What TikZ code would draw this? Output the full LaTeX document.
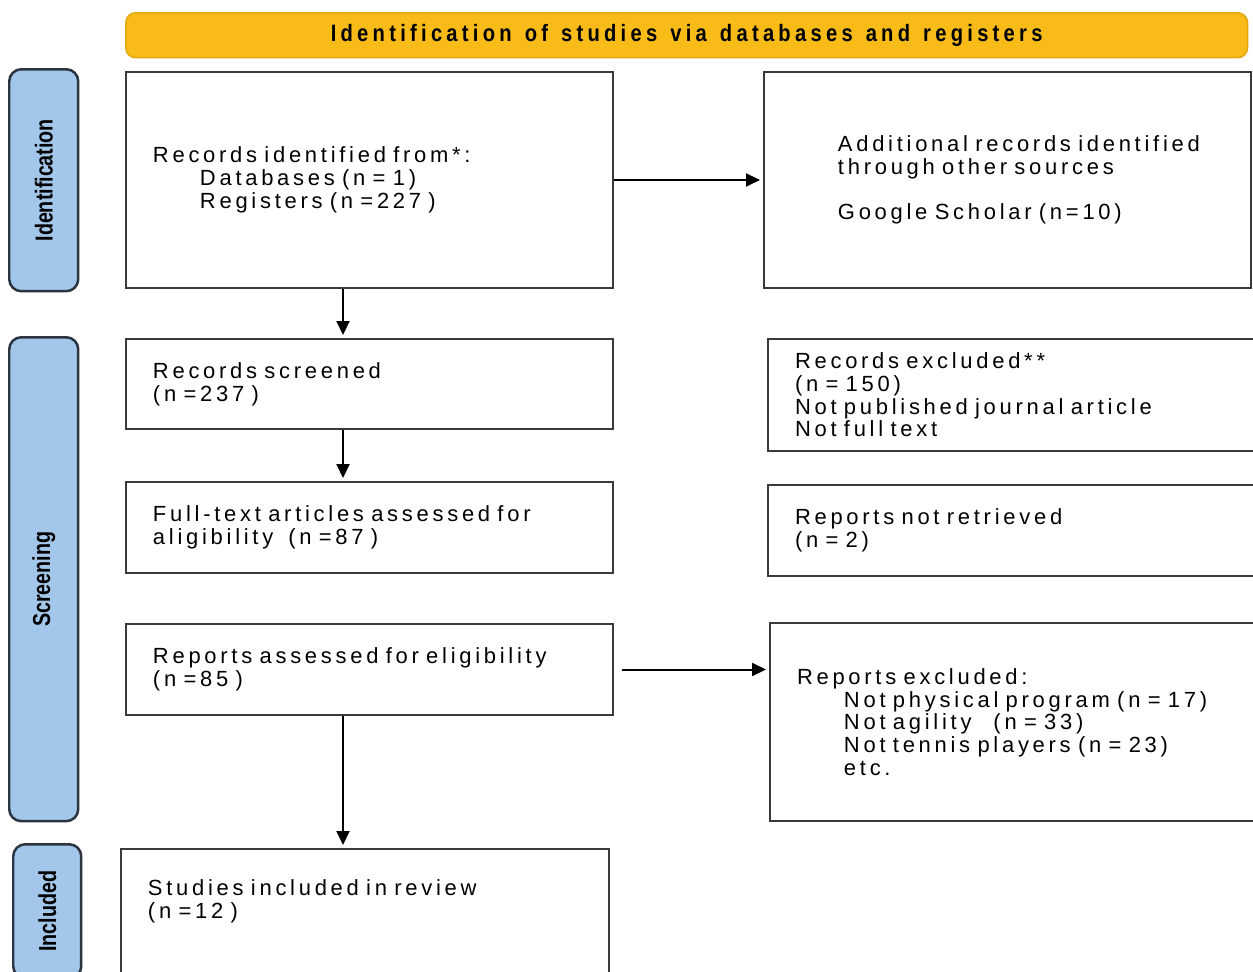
\documentclass[tikz,border=0pt]{standalone}
\usepackage{fontspec}
\setmainfont{Liberation Sans}[LetterSpace=17]
\newfontfamily\headfont{Liberation Sans}[FakeStretch=0.85, LetterSpace=18]
\newfontfamily\sidefont{Liberation Sans}[FakeStretch=0.8]
\usepackage{graphicx}
\usetikzlibrary{arrows.meta}

\definecolor{headfill}{HTML}{F8BB18}
\definecolor{headline}{HTML}{E2A60F}
\definecolor{sidefill}{HTML}{A3C7EB}
\definecolor{sideline}{HTML}{2B3440}
\definecolor{boxline}{HTML}{3A3A3A}

\newcommand{\subline}{\hspace*{0.94cm}}
\DeclareRobustCommand{\headtext}{\headfont\bfseries\fontsize{13.5}{14}\selectfont\spaceskip=0.55em\relax}

\tikzset{
  stagebox/.style={draw=boxline, line width=0.04cm, anchor=north west, align=left,
    inner xsep=0.54cm, inner ysep=0pt, font=\fontsize{12.5}{12.9}\selectfont},
  sidebox/.style={draw=sideline, fill=sidefill, line width=0.05cm, rounded corners=0.24cm,
    anchor=north west, minimum width=1.38cm, inner sep=0pt,
    font=\sidefont\bfseries\fontsize{14}{15}\selectfont},
  flow/.style={line width=0.04cm, shorten >=0.06cm, -{Triangle[length=0.28cm,width=0.26cm]}}
}

\begin{document}
\begin{tikzpicture}[x=0.02cm, y=-0.02cm]
\useasboundingbox (0,0) rectangle (1253,971);
\clip (0,0) rectangle (1253,971);

\node[draw=headline, fill=headfill, line width=0.03cm, rounded corners=0.2cm, anchor=north west,
  minimum width=22.44cm, minimum height=0.9cm, inner sep=0pt, font=\headtext] (head) at (125,12)
  {Identification of studies via databases and registers};

% phases
\node[sidebox, minimum height=4.44cm] (idside) at (8,68) {\rotatebox{90}{Identification}};
\node[sidebox, minimum height=9.68cm] (scrside) at (8,336) {\rotatebox{90}{Screening}};
\node[sidebox, minimum width=1.36cm, minimum height=2.68cm] (incside) at (12,843) {\rotatebox{90}{Included}};

\coordinate (spine) at (343,0);

% left column
\node[stagebox, text width=8.66cm, minimum height=4.32cm] (ident) at (125,71)
  {Records identified from*:\\ \subline Databases (n = 1)\\ \subline Registers (n =227 )};
\node[stagebox, text width=8.66cm, minimum height=1.8cm] (screen) at (125,338)
  {Records screened\\ (n =237 )};
\node[stagebox, text width=8.66cm, minimum height=1.82cm] (fulltext) at (125,481)
  {Full-text articles assessed for\\ aligibility\hspace{0.3cm}(n =87 )};
\node[stagebox, text width=8.66cm, minimum height=1.82cm] (assess) at (125,623)
  {Reports assessed for eligibility\\ (n =85 )};
\node[stagebox, text width=8.68cm, inner ysep=0.62cm, text depth=3cm] (incl) at (120,848)
  {Studies included in review\\ (n =12 )};

% right one
\node[stagebox, text width=8.66cm, minimum height=4.32cm] (other) at (763,71)
  {\subline Additional records identified\\ \subline through other sources\\[0.455cm]
   \subline Google Scholar (n=10)};
\node[stagebox, text width=9.32cm, minimum height=2.24cm] (recexcl) at (767,338)
  {Records excluded**\\ (n = 150)\\ Not published journal article\\ Not full text};
\node[stagebox, text width=9.32cm, minimum height=1.82cm] (notret) at (767,484)
  {Reports not retrieved\\ (n = 2)};
\node[stagebox, text width=9.32cm, minimum height=3.96cm] (repexcl) at (769,622)
  {Reports excluded:\\ \subline Not physical program (n = 17)\\
   \subline Not agility\hspace{0.44cm}(n = 33)\\ \subline Not tennis players (n = 23)\\ \subline etc.};

\draw[flow] (ident.east) -- (other.west);
\draw[flow] (ident.south -| spine) -- (screen.north -| spine);
\draw[flow] (screen.south -| spine) -- (fulltext.north -| spine);
\draw[flow] (assess.south -| spine) -- (incl.north -| spine);
\draw[flow] ([xshift=0.16cm]assess.east) -- (assess.east -| repexcl.west);

\end{tikzpicture}
\end{document}
